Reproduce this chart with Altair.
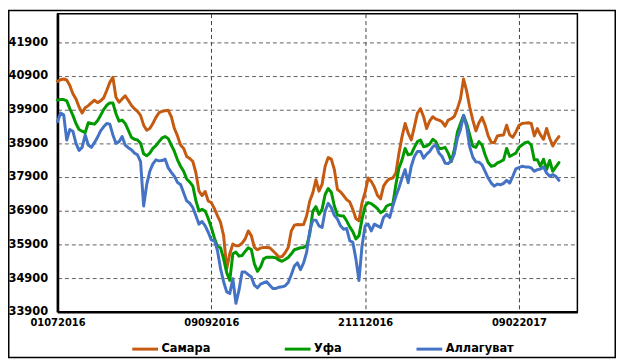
import altair as alt
import pandas as pd

SERIES = ["Самара", "Уфа", "Аллагуват"]
COLORS = ["#C55A11", "#009900", "#4472C4"]
X_TICK_POS = [0, 50, 100, 150]
X_TICK_LABELS = ["01072016", "09092016", "21112016", "09022017"]
Y_TICKS = [33900, 34900, 35900, 36900, 37900, 38900, 39900, 40900, 41900]

samara = [
    40740, 40790, 40810, 40780, 40620, 40370, 40220, 39980, 39800, 39960,
    40020, 40100, 40180, 40110, 40160, 40250, 40470, 40710, 40860, 40270,
    40120, 40220, 40310, 40180, 40030, 39930, 39850, 39730, 39440, 39290,
    39340, 39490, 39670, 39810, 39850, 39870, 39880, 39690, 39340, 39120,
    38850, 38750, 38510, 38450, 38360, 38020, 37480, 37350, 37470, 37190,
    37140, 36960, 36750, 36550, 36160, 35180, 35620, 35910, 35860, 35860,
    35940, 36060, 36300, 36160, 35810, 35740, 35790, 35810, 35810, 35800,
    35710, 35620, 35520, 35540, 35650, 35810, 36300, 36470, 36490, 36480,
    36490, 36750, 37190, 37430, 37820, 37480, 37680, 38220, 38480, 38430,
    38120, 37530, 37460, 37350, 37230, 37160, 36940, 36670, 36600, 37140,
    37450, 37870, 37770, 37600, 37360, 37250, 37630, 37770, 37850, 37870,
    38020, 38610, 39100, 39490, 39200, 39000, 39390, 39800, 39930, 39690,
    39340, 39570, 39690, 39620, 39590, 39540, 39410, 39590, 39630, 39700,
    39930, 40220, 40810, 40450, 39980, 39590, 39270, 39510, 39670, 39440,
    39120, 38930, 38920, 39120, 39140, 39150, 39440, 39150, 39080, 39240,
    39430, 39490, 39500, 39510, 39490, 39120, 39340, 39150, 39020, 39340,
    39050, 38820, 38980, 39100,
]

ufa = [
    40180, 40200, 40200, 40160, 39930, 39730, 39490, 39310, 39260, 39220,
    39510, 39490, 39470, 39570, 39730, 39900, 40030, 40100, 40100, 39780,
    39560, 39590, 39490, 39290, 39080, 39020, 39000, 38900, 38590, 38530,
    38610, 38750, 38830, 38950, 39060, 39100, 39040, 38850, 38660, 38410,
    38220, 38070, 37840, 37750, 37630, 37190, 36890, 36940, 36890, 36670,
    36400, 36090, 35840, 35800, 35470, 35060, 34830, 35620, 35670, 35550,
    35570, 35690, 35800, 35750, 35320, 35100, 35230, 35470, 35520, 35520,
    35520, 35500, 35430, 35400, 35450, 35510, 35620, 35740, 35770, 35800,
    35810, 35860, 36210, 36890, 37020, 36790, 36940, 37380, 37560, 37450,
    37040, 36770, 36750, 36740, 36600, 36420, 36280, 36060, 36160, 36650,
    37040, 37140, 37110, 37040, 36960, 36840, 36890, 37040, 37080, 37090,
    37680, 38170, 38410, 38750, 38560, 38580, 38780, 38950, 39000, 38800,
    38820, 38880, 39020, 38950, 38750, 38750, 38780, 38610, 38360, 38710,
    39240, 39490, 39730, 39490, 39150, 38820, 38780, 38950, 38850, 38560,
    38330, 38220, 38240, 38320, 38360, 38410, 38750, 38510, 38560, 38610,
    38780, 38850, 38920, 38940, 38850, 38410, 38410, 38220, 38430, 38120,
    38390, 38070, 38200, 38330,
]

allaguvat = [
    39540, 39800, 39750, 39000, 39310, 39260, 38900, 38690, 38780, 39150,
    38850, 38780, 38920, 39080, 39270, 39390, 39490, 39470, 39150, 38900,
    38950, 39100, 38850, 38770, 38710, 38610, 38560, 38360, 37040, 37680,
    38070, 38290, 38410, 38380, 38390, 38430, 38170, 38040, 37920, 37740,
    37680, 37430, 37190, 37120, 36990, 36750, 36500, 36580, 36450, 36260,
    36030, 36010, 35720, 35180, 34790, 34490, 34440, 34880, 34150, 34540,
    35080, 35080, 35000, 34930, 34690, 34610, 34720, 34760, 34790, 34690,
    34590, 34590, 34630, 34640, 34670, 34770, 35000, 35260, 35350, 35150,
    35350, 35670, 36300, 36620, 36620, 36450, 36400, 36890, 37120, 36990,
    36760, 36650, 36450, 36350, 36370, 36010, 35960, 35470, 34830, 35860,
    36450, 36500, 36300, 36500, 36450, 36400, 36700, 36790, 36700, 37040,
    37330, 37580, 37870, 38120, 37730, 38220, 38510, 38660, 38660, 38460,
    38580, 38660, 38800, 38850, 38610, 38510, 38310, 38300, 38380, 38590,
    39050, 39310, 39730, 39390, 38800, 38490, 38350, 38340, 38260, 38070,
    37870, 37720, 37630, 37690, 37670, 37710, 37800, 37720, 37920, 38140,
    38180, 38220, 38200, 38200, 38170, 38070, 38120, 38140, 38200, 38020,
    37920, 37970, 37920, 37800,
]

rows = []
for order, (name, vals) in enumerate(zip(SERIES, [samara, ufa, allaguvat])):
    for i, v in enumerate(vals):
        rows.append({"idx": i, "value": v, "series": name, "ord": order})
df = pd.DataFrame(rows)

pos_js = "[" + ",".join(str(p) for p in X_TICK_POS) + "]"
lab_js = "[" + ",".join("'" + t + "'" for t in X_TICK_LABELS) + "]"
label_expr = lab_js + "[indexof(" + pos_js + ", datum.value)]"

W, H = 525, 301
PAD = {"left": 50, "top": 4, "right": 39, "bottom": 47}

lines = alt.Chart(df).mark_line(strokeWidth=3, strokeJoin="round", strokeCap="round").encode(
    x=alt.X(
        "idx:Q",
        scale=alt.Scale(domain=[0, 169], nice=False, zero=False),
        axis=alt.Axis(
            values=X_TICK_POS,
            labelExpr=label_expr,
            title=None,
            ticks=False,
            grid=True,
            gridDash=[4, 3],
            gridColor="#404040",
            gridWidth=1,
            domainColor="black",
            domainWidth=2.5,
            labelFont="DejaVu Sans",
            labelFontWeight="bold",
            labelFontSize=10,
            labelColor="black",
            labelPadding=6,
            labelAngle=0,
            labelFlush=False,
            labelOverlap=False,
        ),
    ),
    y=alt.Y(
        "value:Q",
        scale=alt.Scale(domain=[33900, 42750], nice=False, zero=False),
        axis=alt.Axis(
            values=Y_TICKS,
            format="d",
            title=None,
            ticks=False,
            grid=True,
            gridDash=[4, 3],
            gridColor="#606060",
            gridWidth=1,
            domainColor="black",
            domainWidth=2.5,
            labelFont="DejaVu Sans",
            labelFontWeight="bold",
            labelFontSize=11.5,
            labelColor="black",
            labelPadding=10,
            labelFlush=False,
            labelOverlap=False,
        ),
    ),
    color=alt.Color(
        "series:N",
        scale=alt.Scale(domain=SERIES, range=COLORS),
        sort=SERIES,
        legend=alt.Legend(
            title=None,
            orient="none",
            direction="horizontal",
            legendX=74,
            legendY=324,
            symbolType="stroke",
            symbolSize=676,
            symbolStrokeWidth=3,
            labelFont="DejaVu Sans",
            labelFontWeight="bold",
            labelFontSize=11.5,
            labelColor="black",
            labelOffset=2,
            columnPadding=68,
            padding=0,
        ),
    ),
    order=alt.Order("ord:Q"),
)

border = alt.Chart(pd.DataFrame({"a": [0]})).mark_rect(
    fillOpacity=0, stroke="black", strokeWidth=1.5
).encode(
    x=alt.value(-49.25),
    x2=alt.value(563.25),
    y=alt.value(-3.25),
    y2=alt.value(347.25),
)

chart = alt.layer(lines, border).properties(
    width=W,
    height=H,
    autosize=alt.AutoSizeParams(type="none"),
    padding=PAD,
    background="white",
).configure_view(stroke="black", strokeWidth=1.5)

chart.save("out.html", embed_options={"renderer": "svg", "actions": False})
